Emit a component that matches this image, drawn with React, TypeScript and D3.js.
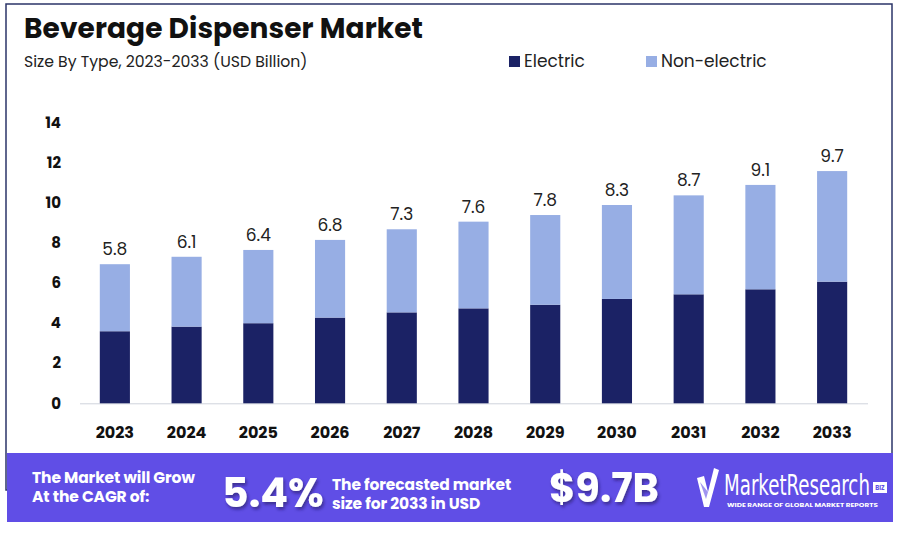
import React, { useLayoutEffect, useRef, useState } from "react";
import * as d3 from "d3";

const years = ["2023","2024","2025","2026","2027","2028","2029","2030","2031","2032","2033"];
const electric = [3.59, 3.82, 3.99, 4.27, 4.53, 4.73, 4.91, 5.20, 5.43, 5.68, 6.06];
const nonElectric = [3.34, 3.48, 3.65, 3.87, 4.14, 4.32, 4.47, 4.68, 4.93, 5.20, 5.51];
const totalLabels = ["5.8","6.1","6.4","6.8","7.3","7.6","7.8","8.3","8.7","9.1","9.7"];
const yTicks = [0, 2, 4, 6, 8, 10, 12, 14];
const seriesNames = ["Electric", "Non-electric"];

const W = 900, H = 554;
const DARK = "#1B2265";
const LIGHT = "#97AEE4";
const PURPLE = "#604EE6";
const FONT = "Poppins, Inter, 'Noto Sans', sans-serif";

function FitText({ x, y, width, children, ...rest }: any) {
  const ref = useRef<SVGTextElement>(null);
  const [s, setS] = useState(1);
  useLayoutEffect(() => {
    if (ref.current) {
      const w = ref.current.getComputedTextLength();
      if (w > 0) setS(width / w);
    }
  }, [width]);
  return (
    <text ref={ref} transform={`translate(${x},${y}) scale(${s},1)`} {...rest}>{children}</text>
  );
}

export default function App() {
  const x = d3.scaleBand<string>().domain(years).range([79, 868]).paddingInner(0.58).paddingOuter(0.29);
  const y = d3.scaleLinear().domain([0, 14]).range([403.3, 122.3]);
  const stack = d3.stack<number>().keys(["e", "n"]).value((i, k) => (k === "e" ? electric[i] : nonElectric[i]));
  const layers = stack(years.map((_, i) => i));
  const colors = [DARK, LIGHT];

  return (
    <svg width={W} height={H} style={{ position: "absolute", left: 0, top: 0, background: "#fff" }} fontFamily={FONT}>
      <defs>
        <filter id="sh" x="-20%" y="-20%" width="140%" height="150%">
          <feDropShadow dx="1.5" dy="2.5" stdDeviation="1.5" floodColor="#1a1450" floodOpacity="0.55" />
        </filter>
      </defs>
      <rect x={0} y={0} width={W} height={H} fill="#fff" />
      <rect x={6} y={4} width={886} height={486} fill="none" stroke="#2B3468" strokeWidth={1.5} />

      <text x={24} y={38} fontSize={28} fontWeight={700} fill="#111" letterSpacing={0.1}>Beverage Dispenser Market</text>
      <text x={24} y={67} fontSize={15.7} fill="#222">Size By Type, 2023-2033 (USD Billion)</text>

      {seriesNames.map((s, i) => {
        const lx = i === 0 ? 509 : 646;
        return (
          <g key={s}>
            <rect x={lx} y={56} width={11} height={11} fill={colors[i]} />
            <text x={lx + 15} y={67} fontSize={17} fill="#222">{s}</text>
          </g>
        );
      })}

      {yTicks.map((t) => (
        <text key={t} x={61} y={y(t)} dy="0.35em" textAnchor="end" fontSize={15} fontWeight={700} fill="#111">{t}</text>
      ))}

      <line x1={80} x2={868} y1={y(0) + 0.5} y2={y(0) + 0.5} stroke="#cfd3dc" strokeWidth={1} />

      {layers.map((layer, li) => (
        <g key={li}>
          {layer.map((d, i) => (
            <rect key={i} x={x(years[i])} y={y(d[1])} width={x.bandwidth()} height={y(d[0]) - y(d[1])} fill={colors[li]} />
          ))}
        </g>
      ))}

      {years.map((yr, i) => (
        <text key={yr} x={(x(yr) as number) + x.bandwidth() / 2} y={y(electric[i] + nonElectric[i]) - 9} textAnchor="middle" fontSize={17} fill="#222">{totalLabels[i]}</text>
      ))}

      {years.map((yr) => (
        <text key={yr} x={(x(yr) as number) + x.bandwidth() / 2} y={432} dy="0.35em" textAnchor="middle" fontSize={16} fontWeight={700} fill="#111">{yr}</text>
      ))}

      <rect x={7} y={453} width={886} height={69} fill={PURPLE} />
      <g fill="#fff" fontWeight={700}>
        <text x={32} y={483} fontSize={15.5} letterSpacing={-0.1}>The Market will Grow</text>
        <text x={32} y={502} fontSize={15.5} letterSpacing={-0.1}>At the CAGR of:</text>
        <text x={222} y={507} fontSize={41} filter="url(#sh)">5.4%</text>
        <text x={332} y={490} fontSize={15.5} letterSpacing={-0.1}>The forecasted market</text>
        <text x={332} y={509} fontSize={15.5} letterSpacing={-0.1}>size for 2033 in USD</text>
        <text x={549} y={502} fontSize={40} filter="url(#sh)">$9.7B</text>
      </g>

      <g>
        <path d="M697,478 L704,476 L708,492 L714,468 L719,470 L709,507 L704,507 Z" fill="#fff" />
        <path d="M700,482 L706,499 L708,492 Z" fill={PURPLE} opacity={0.6} />
        <FitText x={724} y={495} width={146} fontSize={29} fill="#fff" fontFamily="'Liberation Sans Narrow', 'DejaVu Sans Condensed', sans-serif">MarketResearch</FitText>
        <rect x={873} y={482} width={14} height={11} fill="#fff" />
        <text x={880} y={490} fontSize={6} fontWeight={700} textAnchor="middle" fill={PURPLE}>BIZ</text>
        <FitText x={727} y={507} width={151} fontSize={5.5} fontWeight={700} fill="#fff">WIDE RANGE OF GLOBAL MARKET REPORTS</FitText>
      </g>
    </svg>
  );
}
